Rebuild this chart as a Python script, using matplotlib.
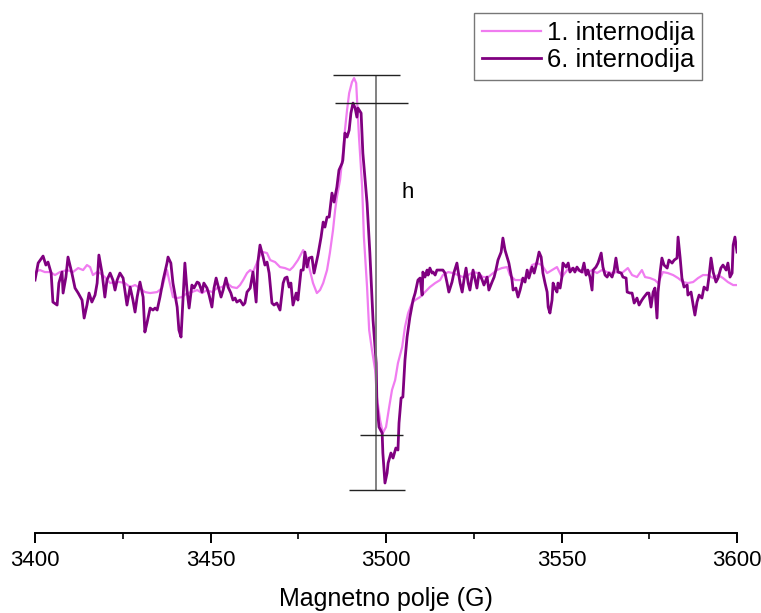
import matplotlib
matplotlib.use("Agg")
import matplotlib.pyplot as plt
from matplotlib.ticker import MultipleLocator

plt.rcParams['font.family'] = ['Liberation Sans', 'DejaVu Sans']

# field (G) and signal (a.u.)
field_1 = [3400.0, 3401.4, 3402.8, 3404.3, 3405.7, 3407.1, 3409.1, 3410.8, 3412.3, 3413.7,
           3414.8, 3415.7, 3416.5, 3417.7, 3418.5, 3419.9, 3421.4, 3422.8, 3424.2, 3425.6,
           3427.1, 3428.5, 3429.9, 3431.3, 3432.8, 3434.8, 3436.2, 3437.0, 3437.6, 3438.2,
           3439.3, 3440.5, 3441.9, 3443.3, 3444.7, 3446.2, 3447.6, 3449.0, 3450.4, 3451.9,
           3453.3, 3454.7, 3456.1, 3457.5, 3458.4, 3459.3, 3460.4, 3461.3, 3462.1, 3463.2,
           3464.1, 3465.0, 3466.1, 3467.0, 3468.4, 3469.8, 3471.2, 3472.6, 3473.5, 3474.9,
           3476.4, 3477.5, 3478.3, 3479.2, 3480.3, 3481.2, 3482.1, 3483.2, 3484.0, 3484.9,
           3485.5, 3486.0, 3486.9, 3487.7, 3488.3, 3488.9, 3489.5, 3490.3, 3490.9, 3491.5,
           3491.7, 3492.3, 3493.2, 3493.7, 3494.6, 3495.2, 3496.0, 3496.9, 3497.4, 3498.3,
           3499.1, 3500.0, 3500.9, 3501.7, 3502.6, 3503.4, 3504.6, 3505.4, 3506.3, 3507.4,
           3508.3, 3509.7, 3511.1, 3512.5, 3514.0, 3515.4, 3516.2, 3517.7, 3519.1, 3520.5,
           3521.9, 3523.4, 3524.8, 3526.2, 3527.6, 3529.1, 3530.5, 3531.6, 3533.0, 3534.5,
           3535.3, 3536.8, 3538.2, 3539.6, 3541.0, 3541.6, 3543.0, 3544.4, 3545.9, 3547.3,
           3548.7, 3550.1, 3551.6, 3553.0, 3554.4, 3555.8, 3557.3, 3558.7, 3560.1, 3561.5,
           3563.0, 3564.4, 3565.8, 3567.2, 3568.9, 3570.1, 3571.5, 3572.9, 3573.8, 3575.2,
           3576.6, 3577.5, 3578.9, 3580.3, 3581.8, 3583.2, 3584.6, 3586.0, 3587.5, 3588.9,
           3590.3, 3591.7, 3593.2, 3594.6, 3596.0, 3597.4, 3598.9, 3600.0]
signal_1 = [-2, 0, -2, -2, -5, -2, 0, -2, 2, 0,
            5, 3, -5, -2, -3, -7, -13, -12, -12, -13,
            -17, -15, -18, -22, -23, -22, -18, -7, 0, -10,
            -27, -28, -27, -23, -22, -20, -23, -20, -22, -18,
            -17, -13, -17, -18, -15, -10, -3, 0, -2, 7,
            15, 18, 17, 10, 8, 3, 2, 0, 3, 10,
            20, 12, 0, -13, -23, -20, -13, 0, 17, 40,
            60, 73, 90, 117, 140, 160, 177, 188, 192, 187,
            173, 133, 83, 33, -17, -60, -80, -100, -127, -150,
            -163, -157, -137, -120, -110, -93, -77, -57, -43, -33,
            -30, -27, -22, -17, -13, -10, -5, -2, -3, -5,
            -7, -5, -2, -3, -7, -7, -3, 0, 2, 3,
            -5, -10, -10, -8, 0, 5, 7, 5, -3, 0,
            3, -7, 0, 2, 0, -2, -3, 0, -3, 0,
            -2, -3, -2, -3, 2, -5, -7, 0, -7, -8,
            -10, -13, -2, -3, -5, -8, -12, -13, -12, -8,
            -5, -5, -8, -5, -8, -12, -15, -15]

field_6 = [3400.0, 3400.9, 3402.3, 3403.1, 3403.7, 3404.6, 3405.1, 3406.3, 3406.8, 3407.7,
           3408.0, 3408.8, 3409.4, 3410.5, 3411.4, 3412.3, 3413.4, 3414.0, 3414.8, 3415.4,
           3416.2, 3417.1, 3417.7, 3418.2, 3419.1, 3419.9, 3420.5, 3421.4, 3422.2, 3422.8,
           3423.4, 3424.2, 3425.1, 3426.2, 3427.1, 3427.9, 3428.5, 3429.1, 3429.9, 3430.8,
           3431.3, 3431.9, 3432.8, 3433.6, 3434.2, 3434.8, 3435.6, 3436.5, 3437.6, 3437.9,
           3438.7, 3439.3, 3440.5, 3441.0, 3441.6, 3442.2, 3442.7, 3443.3, 3443.9, 3444.7,
           3445.3, 3446.2, 3446.7, 3447.6, 3448.1, 3449.0, 3449.6, 3450.4, 3451.0, 3451.6,
           3452.1, 3453.0, 3453.6, 3454.4, 3455.0, 3455.8, 3456.4, 3457.0, 3457.5, 3458.4,
           3459.3, 3459.8, 3460.4, 3461.3, 3462.1, 3463.0, 3463.5, 3464.1, 3465.0, 3465.5,
           3466.1, 3466.7, 3467.5, 3468.1, 3468.9, 3469.8, 3470.7, 3471.2, 3471.8, 3472.4,
           3472.9, 3473.5, 3474.4, 3474.9, 3475.8, 3476.4, 3476.9, 3477.5, 3478.1, 3478.9,
           3479.5, 3480.1, 3480.6, 3481.5, 3482.1, 3482.6, 3483.2, 3483.8, 3484.6, 3485.2,
           3486.0, 3486.6, 3487.5, 3487.7, 3488.3, 3488.9, 3489.5, 3490.0, 3490.6, 3491.2,
           3491.7, 3492.0, 3492.9, 3493.4, 3494.6, 3495.4, 3496.3, 3497.2, 3497.4, 3498.0,
           3498.9, 3499.1, 3499.7, 3500.3, 3500.6, 3501.4, 3502.0, 3502.8, 3503.4, 3503.7,
           3504.3, 3504.8, 3505.4, 3506.0, 3506.8, 3507.7, 3508.3, 3509.1, 3509.7, 3510.3,
           3510.5, 3511.1, 3511.7, 3512.0, 3512.5, 3513.1, 3513.4, 3514.0, 3514.5, 3515.4,
           3516.2, 3516.8, 3517.4, 3517.9, 3518.8, 3519.4, 3520.2, 3520.5, 3521.1, 3521.7,
           3522.2, 3522.8, 3523.4, 3523.9, 3524.8, 3525.4, 3525.9, 3526.5, 3527.4, 3527.9,
           3528.8, 3529.3, 3530.2, 3530.8, 3531.3, 3531.9, 3532.8, 3533.3, 3533.9, 3534.5,
           3535.0, 3535.9, 3536.2, 3537.0, 3537.6, 3538.2, 3539.0, 3539.6, 3540.2, 3540.7,
           3541.6, 3542.2, 3543.0, 3543.6, 3544.2, 3544.7, 3545.3, 3545.9, 3546.2, 3546.7,
           3547.3, 3547.6, 3548.1, 3548.7, 3549.0, 3549.6, 3550.1, 3550.4, 3551.3, 3551.9,
           3552.4, 3553.3, 3553.8, 3554.4, 3555.0, 3555.8, 3556.4, 3557.0, 3557.5, 3558.1,
           3558.7, 3559.0, 3559.8, 3560.4, 3561.3, 3561.8, 3562.4, 3563.0, 3563.5, 3564.4,
           3565.0, 3565.5, 3566.1, 3567.0, 3567.5, 3568.4, 3568.7, 3569.5, 3570.1, 3570.7,
           3571.5, 3572.1, 3572.9, 3573.5, 3574.4, 3574.9, 3575.5, 3576.1, 3576.6, 3577.2,
           3577.5, 3578.1, 3578.6, 3579.2, 3580.1, 3580.6, 3581.5, 3582.1, 3582.9, 3583.2,
           3583.8, 3584.3, 3584.9, 3585.8, 3586.0, 3586.9, 3587.5, 3588.0, 3588.6, 3589.2,
           3590.0, 3590.6, 3591.5, 3592.0, 3592.6, 3593.2, 3594.0, 3594.6, 3595.4, 3596.0,
           3596.9, 3597.4, 3598.0, 3598.6, 3598.9, 3599.4, 3600.0]
signal_6 = [-10, 7, 14, 5, 8, -3, -32, -35, -13, -2,
            -23, -7, 13, -3, -18, -23, -30, -48, -35, -23,
            -32, -25, -13, 15, -3, -27, -10, -3, -10, -20,
            -10, -3, -8, -35, -17, -30, -42, -27, -12, -27,
            -62, -53, -38, -40, -38, -40, -27, -10, 7, 13,
            7, -13, -37, -60, -67, -27, 7, -20, -38, -15,
            -18, -12, -13, -22, -13, -18, -25, -37, -18, -8,
            -15, -27, -20, -8, -17, -23, -30, -28, -32, -30,
            -35, -33, -22, -18, -2, -32, 8, 25, 13, 5,
            8, -3, -33, -35, -33, -40, -13, -8, -7, -17,
            -13, -35, -23, -30, 0, 0, 18, 3, 12, 13,
            -3, 7, 15, 33, 48, 43, 53, 53, 77, 68,
            83, 100, 107, 110, 137, 133, 140, 157, 167, 162,
            153, 162, 157, 117, 67, 17, -50, -93, -133, -157,
            -163, -183, -213, -203, -193, -183, -188, -178, -180, -153,
            -128, -127, -90, -67, -47, -30, -23, -10, -8, -25,
            -2, -7, 0, -5, 2, -3, -2, -5, 0, 0,
            0, -3, -13, -22, -12, -2, 7, 0, -13, -22,
            -10, 2, -13, -20, 0, -10, -18, -3, -10, -15,
            -7, -20, -12, -7, 0, 10, 18, 32, 20, 13,
            7, -10, -20, -18, -27, -20, -8, -12, 0, -8,
            3, -3, 8, 18, 13, -3, -13, -22, -37, -43,
            -30, -13, -18, -22, -13, -18, -7, 7, 3, 7,
            -2, 2, -2, 3, 0, -2, 7, -5, 0, -7,
            -20, 0, 3, 7, 17, 3, -5, -7, -3, -7,
            0, 12, -2, -3, -7, -8, -22, -23, -23, -33,
            -28, -35, -30, -27, -23, -23, -37, -22, -18, -48,
            -22, -2, 12, 5, 2, 10, 7, 10, 12, 33,
            12, -8, -17, -15, -25, -22, -35, -45, -32, -25,
            -28, -17, -20, -7, 12, -2, -12, -8, 2, 5,
            0, 7, -7, -3, 25, 33, 18]

labels = ['1. internodija', '6. internodija']
x_ticks = [3400, 3450, 3500, 3550, 3600]

# peak-to-peak marker (h)
h_field = 3497.2
h_levels = [195, 167, -165, -220]
h_left = [3484.9, 3485.5, 3492.6, 3489.5]
h_right = [3504.0, 3506.3, 3504.8, 3505.4]

fig = plt.figure(figsize=(7.61, 6.13), dpi=100)
ax = fig.add_axes([0.046, 0.1305, 0.9225, 0.853])

ax.plot(field_1, signal_1, color='#F07CF0', lw=1.6, label=labels[0])
ax.plot(field_6, signal_6, color='#800080', lw=2.0, label=labels[1])

ax.vlines(h_field, h_levels[3], h_levels[0], color='#777777', lw=1.3)
ax.hlines(h_levels, h_left, h_right, color='#222222', lw=1.0)
ax.text(3506.3, 78, 'h', fontsize=16, ha='center', va='center')

ax.set_xlim(3400, 3600)
ax.set_ylim(-263, 260)
for side in ['top', 'left', 'right']:
    ax.spines[side].set_visible(False)
ax.spines['bottom'].set_linewidth(1.4)
ax.set_yticks([])
ax.set_xticks(x_ticks)
ax.xaxis.set_minor_locator(MultipleLocator(25))
ax.tick_params(axis='x', which='major', length=7, width=1.4, labelsize=16, pad=5)
ax.tick_params(axis='x', which='minor', length=4, width=1.2)
ax.set_xlabel('Magnetno polje (G)', fontsize=18, labelpad=12)

leg = ax.legend(loc='upper right', bbox_to_anchor=(702 / 761, 1 - 13 / 613),
                bbox_transform=fig.transFigure, fontsize=18.5, frameon=True,
                fancybox=False, edgecolor='#555555', handlelength=2.3,
                handletextpad=0.23, borderpad=0.3, labelspacing=0.12,
                borderaxespad=0)
leg.get_frame().set_linewidth(1.0)

fig.savefig('out.png', dpi=100)
